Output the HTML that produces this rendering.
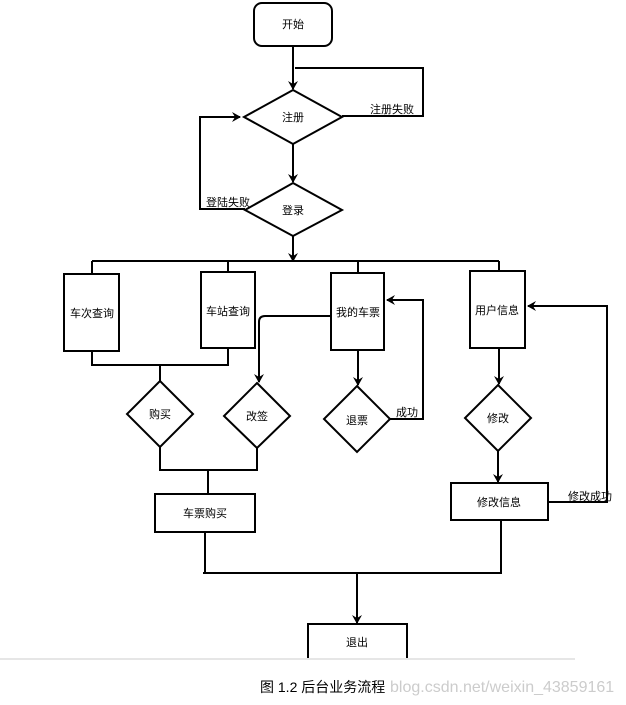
<!DOCTYPE html>
<html><head><meta charset="utf-8"><style>
body{margin:0;background:#fff;width:626px;height:705px;overflow:hidden;}
svg{display:block;}
text{font-family:"Liberation Sans","Noto Sans CJK SC",sans-serif;font-size:11px;fill:#000;}
</style></head><body>
<svg width="626" height="705" viewBox="0 0 626 705" xmlns="http://www.w3.org/2000/svg">
<defs><marker id="a" markerWidth="10" markerHeight="10" refX="8" refY="5" orient="auto" markerUnits="userSpaceOnUse"><path d="M0,0 L9,5 L0,10 L3,5 Z" fill="#000"/></marker></defs>
<g stroke="#000" stroke-width="2" fill="none">
<rect x="254" y="3" width="78" height="43" rx="8" fill="#fff"/>
<line x1="293" y1="46" x2="293" y2="89" marker-end="url(#a)"/>
<polyline points="295,68 423,68 423,116 342,116"/>
<polygon points="293,90 342,117 293,144 244,117" fill="#fff"/>
<line x1="293" y1="144" x2="293" y2="182" marker-end="url(#a)"/>
<polygon points="293,183 342,210 293,236 245,210" fill="#fff"/>
<polyline points="245,209 200,209 200,117 240,117" marker-end="url(#a)"/>
<line x1="293" y1="236" x2="293" y2="261" marker-end="url(#a)"/>
<line x1="92" y1="261" x2="499" y2="261"/>
<line x1="92" y1="261" x2="92" y2="274"/>
<line x1="228" y1="261" x2="228" y2="272"/>
<line x1="358" y1="261" x2="358" y2="273"/>
<line x1="499" y1="261" x2="499" y2="271"/>
<rect x="64" y="274" width="55" height="77"/>
<rect x="201" y="272" width="54" height="76"/>
<rect x="331" y="273" width="53" height="77"/>
<rect x="470" y="271" width="55" height="77"/>
<polyline points="92,351 92,365 228,365 228,348"/>
<line x1="160" y1="365" x2="160" y2="381"/>
<polygon points="160,381 193,414 160,447 127,414" fill="#fff"/>
<path d="M331,316 L265,316 Q259,316 259,322 L259,382" marker-end="url(#a)"/>
<polygon points="257,383 290,416 257,448 224,416" fill="#fff"/>
<polyline points="160,447 160,470 257,470 257,448"/>
<line x1="208" y1="470" x2="208" y2="494"/>
<rect x="155" y="494" width="100" height="38"/>
<line x1="358" y1="350" x2="358" y2="385" marker-end="url(#a)"/>
<polygon points="357,386 390,419 357,452 324,419" fill="#fff"/>
<polyline points="390,419 423,419 423,300 387,300" marker-end="url(#a)"/>
<line x1="499" y1="348" x2="499" y2="384" marker-end="url(#a)"/>
<polygon points="498,385 531,418 498,451 465,418" fill="#fff"/>
<line x1="498" y1="451" x2="498" y2="482" marker-end="url(#a)"/>
<rect x="451" y="483" width="97" height="37"/>
<polyline points="548,502 607,502 607,306 528,306" marker-end="url(#a)"/>
<polyline points="205,532 205,573 501,573 501,520"/>
<line x1="203" y1="573" x2="501" y2="573"/>
<line x1="357" y1="573" x2="357" y2="623" marker-end="url(#a)"/>
<rect x="308" y="624" width="99" height="40" fill="#fff"/>
</g>
<rect x="0" y="658" width="626" height="47" fill="#fff"/>
<line x1="0" y1="659" x2="575" y2="659" stroke="#ccc" stroke-width="1"/>
<text x="293" y="28" text-anchor="middle">开始</text>
<text x="293" y="121" text-anchor="middle">注册</text>
<text x="370" y="113">注册失败</text>
<text x="293" y="214" text-anchor="middle">登录</text>
<text x="206" y="206">登陆失败</text>
<text x="92" y="317" text-anchor="middle">车次查询</text>
<text x="228" y="315" text-anchor="middle">车站查询</text>
<text x="358" y="316" text-anchor="middle">我的车票</text>
<text x="497" y="314" text-anchor="middle">用户信息</text>
<text x="160" y="418" text-anchor="middle">购买</text>
<text x="257" y="420" text-anchor="middle">改签</text>
<text x="357" y="424" text-anchor="middle">退票</text>
<text x="396" y="416">成功</text>
<text x="498" y="422" text-anchor="middle">修改</text>
<text x="499" y="506" text-anchor="middle">修改信息</text>
<text x="568" y="500">修改成功</text>
<text x="205" y="517" text-anchor="middle">车票购买</text>
<text x="357" y="646" text-anchor="middle">退出</text>
<text x="260" y="692" style="font-size:14px">图 1.2 后台业务流程</text>
<text x="390" y="692" style="font-size:16px;fill:#ccc">blog.csdn.net/weixin_43859161</text>
</svg>
</body></html>
